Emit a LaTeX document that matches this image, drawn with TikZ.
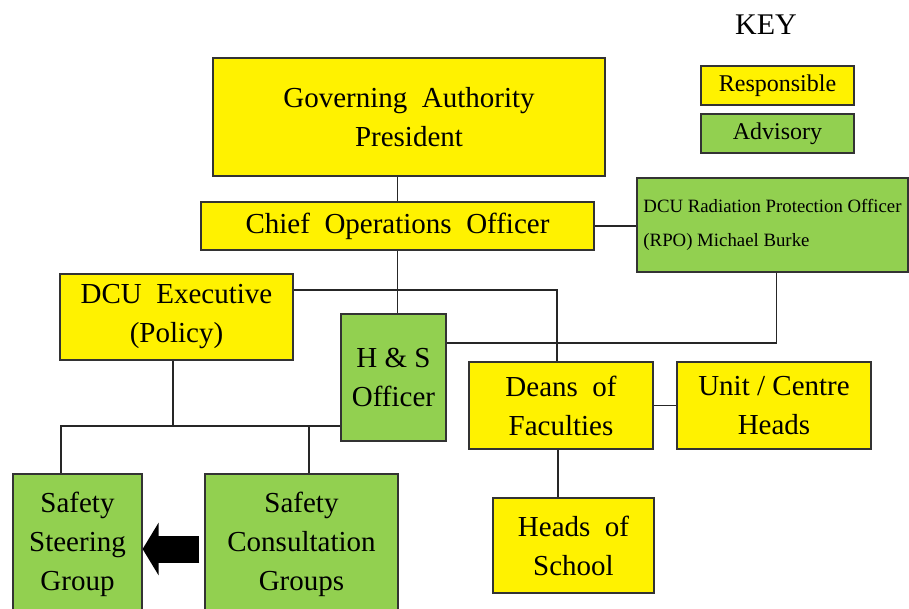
\documentclass[tikz,border=0pt]{standalone}
\usepackage{fontspec}
\setmainfont{Liberation Serif}
\usetikzlibrary{calc,arrows.meta}
\definecolor{advgreen}{RGB}{146,208,80}
\newcommand{\orgfont}{\fontsize{29}{39}\selectfont\spaceskip=0.5em\relax}
\tikzset{
  resp/.style={draw=black!80,line width=1.2pt,fill=yellow,inner sep=0pt,align=center,font=\orgfont},
  advis/.style={resp,fill=advgreen},
  link/.style={draw=black!85,line width=1.3pt},
  bigarrow/.style={line width=27pt,-{Triangle[length=16pt,width=52pt]}}
}

\begin{document}
\begin{tikzpicture}[x=1pt,y=-1pt]
  \useasboundingbox (0,0) rectangle (909,608);
  % key
  \node[font=\fontsize{30}{36}\selectfont] (key) at (766,25) {KEY};
  \node[resp,minimum width=153pt,minimum height=39pt,font=\fontsize{24}{28}\selectfont] (keyresp) at (777.5,85.5) {Responsible};
  \node[advis,minimum width=153pt,minimum height=39pt,font=\fontsize{24}{28}\selectfont] (keyadv) at (777.5,133.5) {Advisory};
  % boxes
  \node[resp,minimum width=392pt,minimum height=118pt] (gov) at (409,117) {Governing Authority\\President};
  \node[resp,minimum width=393pt,minimum height=48pt] (chief) at (397.5,226) {Chief Operations Officer};
  \node[advis,minimum width=271pt,minimum height=94pt,align=left,font=\fontsize{18.8}{34}\selectfont] (rpo) at (772.5,225) {\rule{0pt}{6pt}DCU Radiation Protection Officer\\(RPO) Michael Burke};
  \node[resp,minimum width=233pt,minimum height=86pt] (exec) at (176.5,317) {DCU Executive\\(Policy)};
  \node[advis,minimum width=105pt,minimum height=127pt,font=\fontsize{29}{39}\selectfont] (hs) at (393.5,377.5) {H \& S\\Officer};
  \node[resp,minimum width=184pt,minimum height=87pt] (deans) at (561,405.5) {Deans of\\Faculties};
  \node[resp,minimum width=194pt,minimum height=87pt,font=\fontsize{29}{39}\selectfont] (units) at (774,405.5) {Unit / Centre\\Heads};
  \node[resp,minimum width=161pt,minimum height=95pt] (heads) at (573.5,545.5) {Heads of\\School};
  \node[advis,minimum width=129pt,minimum height=140pt] (steering) at (77.5,544) {Safety\\Steering\\Group};
  \node[advis,minimum width=193pt,minimum height=140pt] (consult) at (301.5,544) {Safety\\Consultation\\Groups};
  % links
  \draw[link] (chief.north) -- (chief.north |- gov.south);
  \draw[link] (chief.east) -- (chief.east -| rpo.west);
  \draw[link] (chief.south) -- (chief.south |- hs.north);
  \draw[link] ([yshift=27pt]exec.east) -| ([xshift=-4pt]deans.north);
  \draw[link] ([xshift=4pt]rpo.south) |- ([yshift=34.5pt]hs.east);
  \draw[link] ([xshift=-3.5pt]exec.south) -- ++(0,66);
  \draw[link] ([xshift=-16.5pt]steering.north) |- ([yshift=-48.5pt]hs.west);
  \draw[link] ([xshift=7.5pt]consult.north) -- ++(0,-48);
  \draw[link] (deans.east) -- (units.west);
  \draw[link] ([xshift=-3pt]deans.south) -- ([xshift=-3pt]deans.south |- heads.north);
  \draw[bigarrow,shorten <=5pt] ([yshift=-5pt]consult.west) -- ([yshift=-5pt]steering.east);
\end{tikzpicture}
\end{document}
